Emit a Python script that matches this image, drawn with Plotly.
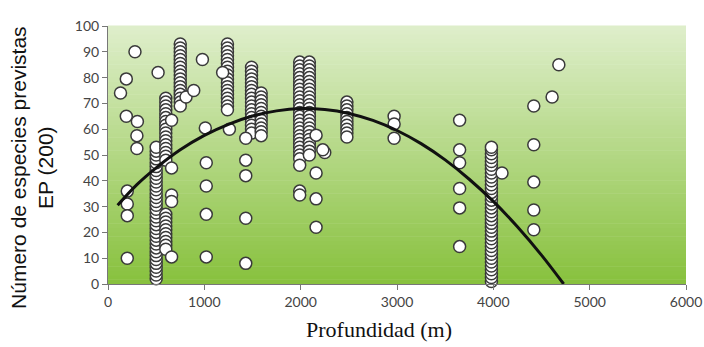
import plotly.graph_objects as go

# ---- scattered single observations (depth m, species EP(200)) ----
single_depth = [130, 190, 280, 190, 305, 300, 300, 200, 200, 200, 200,
                520, 810, 890, 980, 1010, 660,
                660, 660, 660, 660,
                1020, 1020, 1020, 1020,
                1190, 1260,
                1430, 1430, 1430, 1430, 1430,
                1990, 1990, 1990, 2160, 2160, 2160, 2250, 2160, 2230,
                2970, 2970, 2970,
                3650, 3650, 3650, 3650, 3650, 3650,
                4090,
                4420, 4420, 4420, 4420, 4420,
                4610, 4680]
single_species = [74, 79.5, 90, 65, 63, 57.5, 52.5, 36, 31, 26.5, 10,
                  82, 72.5, 75, 87, 60.5, 63.5,
                  45, 34.5, 32, 10.5,
                  47, 38, 27, 10.5,
                  82, 60,
                  56.5, 48, 42, 25.5, 8,
                  46, 36, 34.5, 43, 33, 22, 51, 57.7, 52,
                  65, 62, 56.5,
                  63.5, 52, 47, 37, 29.5, 14.5,
                  43,
                  69, 54, 39.5, 28.7, 21,
                  72.5, 85]

# ---- dense columns of observations at one depth ----
column_depths = [500, 600, 750, 1240, 1490, 1590, 1990, 2090, 2480, 3980]
col_500 = [2, 3.5, 5, 6.5, 8, 9.5, 11, 12.5, 14, 15.5, 17, 18.5, 20, 21.5, 23, 24.5,
           26, 27.5, 29, 30.5, 32, 33.5, 35, 36.5, 38, 39.5, 41, 42.5, 44, 45.5,
           47, 48.5, 50, 51.5, 53]
col_600 = [72, 70.5, 69, 67.5, 66, 64.5, 63, 61.5, 60, 58.5, 57, 55.5, 54, 52.5, 51,
           49.5, 48, 27, 25.5, 24, 22.5, 21, 19.5, 18, 16.5, 15, 13.5]
col_750 = [93, 91.5, 90, 88.5, 87, 85.5, 84, 82.5, 81, 79.5, 78, 76.5, 75, 73.5, 72,
           70.5, 69]
col_1240 = [93, 91.5, 90, 88.5, 87, 85.5, 84, 82.5, 81, 79.5, 78, 76.5, 75, 73.5, 72,
            70.5, 69, 67.5]
col_1490 = [84, 82.5, 81, 79.5, 78, 76.5, 75, 73.5, 72, 70.5, 69, 67.5, 66, 64.5, 63,
            61.5, 60, 58.5]
col_1590 = [74, 72.5, 71, 69.5, 68, 66.5, 65, 63.5, 62, 60.5, 59, 57.5]
col_1990 = [86, 84.5, 83, 81.5, 80, 78.5, 77, 75.5, 74, 72.5, 71, 69.5, 68, 66.5, 65,
            63.5, 62, 60.5, 59, 57.5, 56, 54.5, 53, 51.5, 50, 48.5]
col_2090 = [86, 84.5, 83, 81.5, 80, 78.5, 77, 75.5, 74, 72.5, 71, 69.5, 68, 66.5, 65,
            63.5, 62, 60.5, 59, 57.5, 56, 54.5, 53, 51.5, 50]
col_2480 = [70.5, 69, 67.5, 66, 64.5, 63, 61.5, 60, 58.5, 57]
col_3980 = [1, 2.5, 4, 5.5, 7, 8.5, 10, 11.5, 13, 14.5, 16, 17.5, 19, 20.5, 22, 23.5,
            25, 26.5, 28, 29.5, 31, 32.5, 34, 35.5, 37, 38.5, 40, 41.5, 43, 44.5, 46,
            47.5, 49, 50.5, 52, 53]
column_values = [col_500, col_600, col_750, col_1240, col_1490, col_1590,
                 col_1990, col_2090, col_2480, col_3980]

# ---- fitted curve ----
curve_depth = [100, 300, 500, 750, 1000, 1250, 1500, 1750, 2000, 2250, 2500, 2750,
               3000, 3250, 3500, 3750, 4000, 4250, 4500, 4730]
curve_species = [30.5, 38.5, 45, 52, 57.6, 61.9, 65.1, 67.1, 68, 67.6, 66.1, 63.4,
                 59.5, 54.4, 48.1, 40.6, 32, 22.2, 11.2, 0]

x_ticks = [0, 1000, 2000, 3000, 4000, 5000, 6000]
y_ticks = [0, 10, 20, 30, 40, 50, 60, 70, 80, 90, 100]
x_title = "Profundidad (m)"
y_title = "Número de especies previstas<br>EP (200)"

# build point arrays
pts_x = []
pts_y = []
for d, vals in zip(column_depths, column_values):
    pts_x += [d] * len(vals)
    pts_y += vals
pts_x += single_depth
pts_y += single_species

fig = go.Figure()

fig.add_trace(go.Scatter(
    x=pts_x, y=pts_y, mode="markers",
    marker=dict(symbol="circle", size=12, color="white",
                line=dict(color="#3a3a3a", width=1.5)),
    showlegend=False, hoverinfo="skip", cliponaxis=False))

fig.add_trace(go.Scatter(
    x=curve_depth, y=curve_species, mode="lines", line_shape="spline",
    line=dict(color="#111111", width=3), showlegend=False, hoverinfo="skip"))

# gradient background bands
top = (222, 238, 202)
bot = (136, 193, 62)
n = 60
shapes = []
for i in range(n):
    t = i / (n - 1)
    c = tuple(int(round(bot[k] + (top[k] - bot[k]) * t)) for k in range(3))
    shapes.append(dict(type="rect", xref="paper", yref="paper", layer="below",
                       x0=0, x1=1, y0=i / n, y1=(i + 1) / n + 0.002,
                       fillcolor="rgb(%d,%d,%d)" % c, line=dict(width=0)))

tickfont = dict(family="Lato, Open Sans, sans-serif", size=14, color="#444444")

fig.update_layout(
    width=704, height=347,
    margin=dict(l=108, r=18, t=26, b=63, autoexpand=False),
    paper_bgcolor="white", plot_bgcolor="white",
    shapes=shapes,
    hovermode=False,
    xaxis=dict(range=[0, 6000], tickvals=x_ticks, ticks="outside", ticklen=5,
               tickcolor="#777777", showline=True, linecolor="#777777",
               showgrid=False, zeroline=False, tickfont=tickfont, automargin=False),
    yaxis=dict(range=[0, 100], tickvals=y_ticks, ticks="outside", ticklen=5,
               tickcolor="#777777", showline=True, linecolor="#777777",
               showgrid=False, zeroline=False, tickfont=tickfont, automargin=False),
    annotations=[
        dict(text=x_title, xref="paper", yref="paper", x=0.469, y=-0.178,
             xanchor="center", yanchor="middle", showarrow=False,
             font=dict(family="Liberation Serif, Times New Roman, serif",
                       size=22, color="#111111")),
        dict(text=y_title, xref="paper", yref="paper", x=-0.1315, y=0.45,
             xanchor="center", yanchor="middle", showarrow=False, textangle=-90,
             font=dict(family="Liberation Sans, Arial, sans-serif",
                       size=21, color="#111111")),
    ],
)

fig.write_html("out.html", config={"displayModeBar": False},
               post_script="document.body.style.margin='0';document.body.style.overflow='hidden';")
